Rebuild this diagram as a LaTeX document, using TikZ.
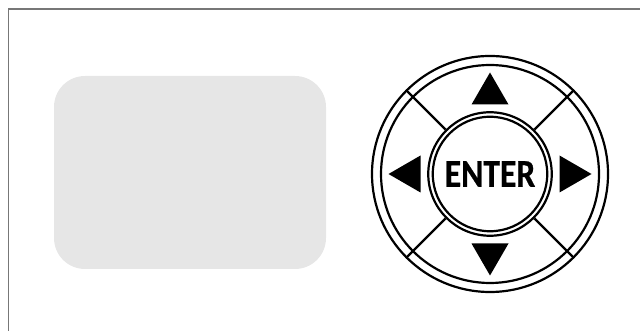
\documentclass[tikz,border=0pt]{standalone}
\usepackage{fontspec}
\setmainfont{Carlito}
\newfontfamily\keyfont[FakeStretch=0.85,BoldFeatures={FakeStretch=0.85,FakeBold=0.6}]{Carlito}
\usetikzlibrary{positioning}
\definecolor{padgray}{HTML}{E6E6E6}
\definecolor{framegray}{HTML}{777777}
\tikzset{
  ringv/.style={circle,draw=black,line width=1.25pt,inner sep=0pt},
  spoke/.style={line width=1.25pt},
  keymark/.style={fill=black,draw=none},
  padbox/.style={fill=padgray,rounded corners=0.62cm,minimum width=5.44cm,minimum height=3.86cm,inner sep=0pt}
}

\begin{document}
\begin{tikzpicture}
  \useasboundingbox (0,0) rectangle (12.8,6.62);
  \draw[framegray,line width=0.7pt] (0.17,0) -- (0.17,6.44) -- (12.8,6.44);
  \node[padbox] (pad) at (3.8,3.17) {};
  \node[ringv,minimum size=4.72cm] (outer) at (9.8,3.14) {};
  \node[ringv,minimum size=4.36cm] (inner) at (9.8,3.14) {};
  \node[ringv,minimum size=2.47cm] (btnout) at (9.8,3.14) {};
  \node[ringv,minimum size=2.29cm,font=\keyfont\bfseries\fontsize{22.5}{22.5}\selectfont] (enter) at (9.8,3.14) {ENTER};
  \foreach \a in {45,135,225,315}
    \draw[spoke] (btnout.\a) -- (outer.\a);
  \foreach \a in {0,90,180,270}
    \fill[keymark,rotate around={\a:(enter.center)}] (9.8,5.17) -- (9.43,4.53) -- (10.17,4.53) -- cycle;
\end{tikzpicture}
\end{document}
